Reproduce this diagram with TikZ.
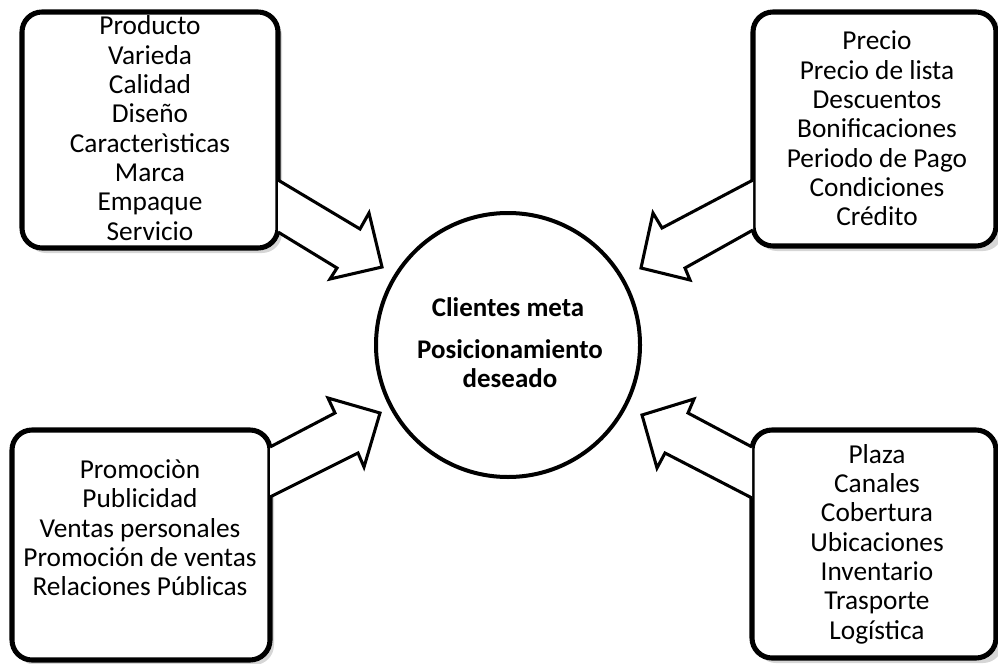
\documentclass[tikz,border=0pt]{standalone}
\usepackage{fontspec}
\setmainfont{Carlito}
\begin{document}
\begin{tikzpicture}[x=0.75pt,y=-0.75pt,
  listbox/.style={draw=black,line width=3.8pt,rounded corners=15pt,fill=white},
  boxshadow/.style={fill=black!16,rounded corners=15pt},
  listtext/.style={align=center,inner sep=0pt,font=\fontsize{20.5pt}{22pt}\selectfont},
  coretext/.style={align=center,inner sep=0pt,font=\fontsize{20.2pt}{22pt}\selectfont\bfseries},
  blockarrow/.style={draw=black,line width=2.3pt,fill=white,line join=miter}]
\useasboundingbox (0,0) rectangle (998,663);

% shadows behind the four boxes
\fill[boxshadow] (26,16) rectangle (282,253);
\fill[boxshadow] (757,16) rectangle (1003,251);
\fill[boxshadow] (16,434) rectangle (274,665);
\fill[boxshadow] (756,434) rectangle (1003,663);

% the four boxes
\draw[listbox] (22,12) rectangle (278,248);
\coordinate (prodbox) at (150,130);
\draw[listbox] (753,12) rectangle (996,246);
\coordinate (precbox) at (875,129);
\draw[listbox] (12,430) rectangle (270,660);
\coordinate (promobox) at (141,545);
\draw[listbox] (752,430) rectangle (996,658);
\coordinate (plazabox) at (874,544);

% central circle
\node[draw=black,line width=3pt,circle,minimum size=264pt*0.75,fill=white] (core) at (508,345) {};

% block arrows from the boxes towards the circle
\draw[blockarrow] (278,180) -- (360,229) -- (369,213) -- (382,267)
  -- (330,279) -- (337,268) -- (278,232);
\draw[blockarrow] (753,180) -- (662,228) -- (653,213) -- (641,268)
  -- (690,280) -- (685,268) -- (753,230);
\draw[blockarrow] (270,447) -- (335,413) -- (328,398) -- (380,413)
  -- (364,467) -- (358,453) -- (270,497);
\draw[blockarrow] (752,447) -- (688,413) -- (694,399) -- (642,415)
  -- (657,468) -- (665,453) -- (752,498);

% texts
\node[listtext] (prod) at (150,128) {Producto\\Varieda\\Calidad\\Diseño\\Caracterìsticas\\Marca\\Empaque\\Servicio};
\node[listtext] (prec) at (877,128.5) {Precio\\Precio de lista\\Descuentos\\Bonificaciones\\Periodo de Pago\\Condiciones\\Crédito};
\node[listtext] (promo) at (140,528) {Promociòn\\Publicidad\\Ventas personales\\Promoción de ventas\\Relaciones Públicas};
\node[listtext] (plaza) at (877,544) {Plaza\\Canales\\Cobertura\\Ubicaciones\\Inventario\\Trasporte\\Logística};

\node[coretext] (meta) at (508,307) {Clientes meta};
\node[coretext] (pos) at (510,363.5) {Posicionamiento\\deseado};
\end{tikzpicture}
\end{document}
